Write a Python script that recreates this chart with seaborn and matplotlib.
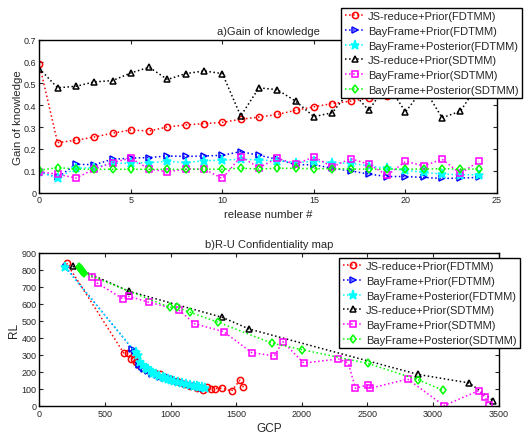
import numpy as np
import pandas as pd
import matplotlib
matplotlib.use("Agg")
import matplotlib.pyplot as plt
import seaborn as sns

# ---- a) Gain of knowledge per release ----
release = list(range(25))
gain_js_fd = [0.589, 0.229, 0.240, 0.255, 0.272, 0.287, 0.282, 0.301, 0.310, 0.316,
              0.322, 0.336, 0.346, 0.358, 0.377, 0.393, 0.408, 0.419, 0.432, 0.444,
              0.456, 0.467, 0.478, 0.490, 0.500]
gain_bay_prior_fd = [0.095, 0.070, 0.130, 0.128, 0.153, 0.158, 0.161, 0.168, 0.166, 0.168,
                     0.171, 0.188, 0.171, 0.153, 0.128, 0.128, 0.112, 0.100, 0.085, 0.074,
                     0.074, 0.070, 0.065, 0.067, 0.070]
gain_bay_post_fd = [0.095, 0.068, 0.112, 0.115, 0.135, 0.135, 0.138, 0.143, 0.138, 0.146,
                    0.149, 0.153, 0.150, 0.146, 0.138, 0.143, 0.138, 0.134, 0.123, 0.111,
                    0.103, 0.093, 0.085, 0.082, 0.082]
gain_js_sd = [0.568, 0.480, 0.487, 0.507, 0.513, 0.548, 0.574, 0.518, 0.545, 0.557,
              0.545, 0.351, 0.480, 0.471, 0.419, 0.348, 0.366, 0.470, 0.377, 0.500,
              0.369, 0.480, 0.343, 0.373, 0.500]
gain_bay_prior_sd = [0.095, 0.085, 0.067, 0.108, 0.138, 0.158, 0.108, 0.096, 0.108, 0.108,
                     0.065, 0.165, 0.115, 0.158, 0.130, 0.164, 0.118, 0.156, 0.130, 0.080,
                     0.143, 0.123, 0.153, 0.088, 0.143]
gain_bay_post_sd = [0.103, 0.115, 0.108, 0.107, 0.107, 0.107, 0.107, 0.107, 0.107, 0.108,
                    0.107, 0.112, 0.108, 0.112, 0.111, 0.110, 0.110, 0.108, 0.108, 0.108,
                    0.108, 0.108, 0.110, 0.108, 0.108]

# ---- b) R-U confidentiality map (GCP, RL) ----
gcp_js_fd = [208, 645, 678, 700, 718, 738, 760, 790, 830, 880, 920, 960, 1000, 1050,
             1100, 1150, 1200, 1250, 1280, 1310, 1340, 1390, 1465, 1530, 1555]
rl_js_fd = [838, 309, 309, 278, 276, 258, 240, 225, 210, 195, 185, 170, 160, 145,
            130, 115, 105, 95, 110, 102, 102, 105, 88, 152, 110]
gcp_bay_prior_fd = [200, 710, 730, 760, 780, 800, 830, 860, 900, 920, 950, 990, 1010,
                    1030, 1060, 1090, 1120, 1150, 1170, 1190, 1210, 1230, 1240, 1250, 1260]
rl_bay_prior_fd = [815, 335, 320, 240, 230, 215, 205, 190, 180, 170, 165, 165, 160,
                   150, 140, 135, 130, 125, 120, 115, 112, 110, 108, 105, 104]
gcp_bay_post_fd = [195, 735, 750, 770, 790, 810, 830, 850, 870, 890, 910, 940, 960,
                   980, 1000, 1030, 1060, 1090, 1120, 1150, 1180, 1200, 1220, 1240, 1260]
rl_bay_post_fd = [815, 315, 300, 260, 240, 225, 215, 205, 195, 185, 178, 170, 165,
                  160, 155, 148, 140, 135, 128, 122, 118, 115, 112, 110, 108]
gcp_js_sd = [254, 685, 1396, 1599, 2888, 3277, 3460]
rl_js_sd = [820, 673, 520, 452, 185, 135, 31]
gcp_bay_prior_sd = [398, 444, 640, 680, 835, 1063, 1183, 1406, 1619, 1792, 1855, 2015,
                    2279, 2355, 2409, 2508, 2523, 2807, 3084, 3348, 3398, 3424]
rl_bay_prior_sd = [759, 720, 628, 644, 609, 564, 483, 436, 313, 294, 378, 252,
                   276, 252, 104, 125, 104, 158, 2, 90, 51, 8]
gcp_bay_post_sd = [300, 308, 315, 320, 325, 332, 340, 995, 1046, 1150, 1365, 1775,
                   2000, 2503, 2883, 3073]
rl_bay_post_sd = [818, 812, 805, 800, 795, 788, 780, 579, 579, 550, 491, 368,
                  331, 250, 155, 93]

labels = ["JS-reduce+Prior(FDTMM)", "BayFrame+Prior(FDTMM)", "BayFrame+Posterior(FDTMM)",
          "JS-reduce+Prior(SDTMM)", "BayFrame+Prior(SDTMM)", "BayFrame+Posterior(SDTMM)"]

sns.set_style("ticks")
plt.rcParams["font.family"] = ["Liberation Sans", "DejaVu Sans"]
plt.rcParams["axes.linewidth"] = 1.0

styles = [
    dict(color="#ff0000", marker="o", markerfacecolor="none"),
    dict(color="#0000ff", marker=">", markerfacecolor="none"),
    dict(color="#00ffff", marker="*", markerfacecolor="#00ffff"),
    dict(color="#000000", marker="^", markerfacecolor="none"),
    dict(color="#ff00ff", marker="s", markerfacecolor="none"),
    dict(color="#00ff00", marker="d", markerfacecolor="none"),
]
sizes = [4.5, 4.5, 6.5, 4.8, 4.0, 4.5]

fig = plt.figure(figsize=(5.24, 4.35), dpi=100)
ax1 = fig.add_axes([0.075, 0.5547, 0.8735, 0.3517])
ax2 = fig.add_axes([0.075, 0.0644, 0.8765, 0.3524])

line_kw = dict(linestyle=":", linewidth=1.1, markeredgewidth=1.1,
               estimator=None, sort=False)

top_series = [gain_js_fd, gain_bay_prior_fd, gain_bay_post_fd,
              gain_js_sd, gain_bay_prior_sd, gain_bay_post_sd]
for ys, lab, st, ms in zip(top_series, labels, styles, sizes):
    df = pd.DataFrame({"release": release, "gain": ys})
    sns.lineplot(data=df, x="release", y="gain", ax=ax1, label=lab,
                 markersize=ms, markeredgecolor=st["color"], **line_kw, **st)

bottom_series = [(gcp_js_fd, rl_js_fd), (gcp_bay_prior_fd, rl_bay_prior_fd),
                 (gcp_bay_post_fd, rl_bay_post_fd), (gcp_js_sd, rl_js_sd),
                 (gcp_bay_prior_sd, rl_bay_prior_sd), (gcp_bay_post_sd, rl_bay_post_sd)]
for (xs, ys), lab, st, ms in zip(bottom_series, labels, styles, sizes):
    df = pd.DataFrame({"GCP": xs, "RL": ys})
    sns.lineplot(data=df, x="GCP", y="RL", ax=ax2, label=lab,
                 markersize=ms, markeredgecolor=st["color"], **line_kw, **st)

ax1.set_xlim(0, 25)
ax1.set_ylim(0, 0.7)
ax1.set_xticks(range(0, 26, 5))
ax1.set_yticks(np.arange(0, 0.71, 0.1))
ax1.set_yticklabels(["0", "0.1", "0.2", "0.3", "0.4", "0.5", "0.6", "0.7"])
ax1.set_xlabel("release number #", fontsize=8.2, labelpad=3)
ax1.set_ylabel("Gain of knowledge", fontsize=8.2, labelpad=1)
ax1.set_title("a)Gain of knowledge", fontsize=8, pad=4)

ax2.set_xlim(0, 3500)
ax2.set_ylim(0, 900)
ax2.set_xticks(range(0, 3501, 500))
ax2.set_yticks(range(0, 901, 100))
ax2.set_xlabel("GCP", fontsize=8.5, labelpad=3)
ax2.set_ylabel("RL", fontsize=8.5, labelpad=1)
ax2.set_title("b)R-U Confidentiality map", fontsize=8, pad=4)

for ax in (ax1, ax2):
    for sp in ax.spines.values():
        sp.set_visible(True)
        sp.set_color("black")
    ax.tick_params(direction="in", top=True, right=True, labelsize=6.5,
                   length=3, width=0.8, pad=2)

leg_kw = dict(fontsize=8, frameon=True, fancybox=False, edgecolor="black",
              framealpha=1, handlelength=1.8, handletextpad=0.3,
              borderpad=0.3, labelspacing=0.42, borderaxespad=0)
leg1 = ax1.legend(loc="upper right", bbox_to_anchor=(522 / 524, 1 - 9 / 435),
                  bbox_transform=fig.transFigure, **leg_kw)
leg2 = ax2.legend(loc="upper right", bbox_to_anchor=(520 / 524, 1 - 259 / 435),
                  bbox_transform=fig.transFigure, **leg_kw)
for leg in (leg1, leg2):
    leg.get_frame().set_linewidth(1.0)

fig.savefig("out.png", dpi=100)
